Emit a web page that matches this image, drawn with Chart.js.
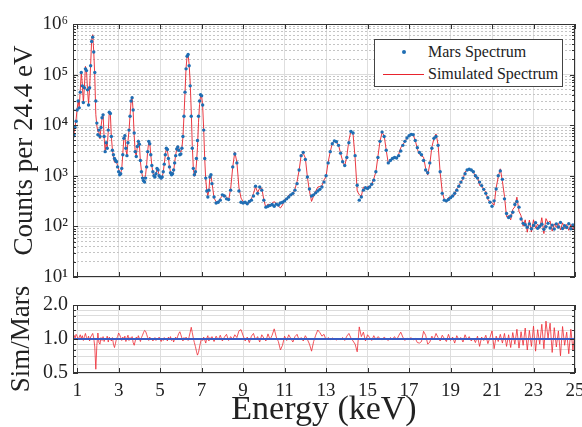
<!DOCTYPE html>
<html>
<head>
<meta charset="utf-8">
<script src="https://cdn.jsdelivr.net/npm/chart.js@4.4.0/dist/chart.umd.min.js"></script>
<style>
  html, body { margin: 0; padding: 0; background: #fff; }
  #wrap { position: relative; width: 582px; height: 427px; overflow: hidden; }
  .panel { position: absolute; left: 0; width: 582px; }
  #top { top: 0; height: 290px; }
  #bottom { top: 266px; height: 161px; }
  #legend {
    position: absolute; left: 374px; top: 39px; width: 189px; height: 48px;
    box-sizing: border-box; border: 1px solid #444; background: #fff;
    font-family: 'Liberation Serif', 'Times New Roman', serif; font-size: 16px; color: #222;
  }
  #legend .row { position: absolute; left: 0; width: 100%; height: 22px; line-height: 22px; }
  #legend .txt { position: absolute; left: 53px; top: 0; white-space: nowrap; }
  #legend .dot { position: absolute; left: 27px; top: 9px; width: 4px; height: 4px; border-radius: 50%; background: #1f6eb4; }
  #legend .line { position: absolute; left: 8px; top: 11px; width: 41px; height: 1px; background: #e8232d; }
</style>
</head>
<body>
<div id="wrap">
  <div class="panel" id="top"><canvas id="spectrumChart"></canvas></div>
  <div class="panel" id="bottom"><canvas id="ratioChart"></canvas></div>
  <div id="legend">
    <div class="row" style="top:1px"><span class="dot"></span><span class="txt">Mars Spectrum</span></div>
    <div class="row" style="top:23px"><span class="line"></span><span class="txt">Simulated Spectrum</span></div>
  </div>
</div>
<script>
// channel grid: fine steps below 7.5 keV, coarser above
const lowBand = { start: 0.8, step: 0.05 };
const highBand = { start: 7.6, step: 0.1 };

// Mars counts per 24.4 eV
const marsLow = [
  6000, 6500, 9000, 12000, 20000, 30000, 22000, 45000, 110000, 60000,
  28000, 55000, 130000, 120000, 50000, 25000, 55000, 150000, 450000, 550000,
  280000, 110000, 30000, 11000, 6500, 8000, 6000, 9000, 14000, 16000,
  6000, 3000, 4500, 3500, 8000, 18000, 17000, 6000, 3200, 2600,
  2200, 2000, 1900, 1500, 1200, 1050, 1100, 1400, 2600, 5500,
  6200, 3500, 2500, 4500, 8000, 15000, 30000, 35000, 20000, 7000,
  3000, 2400, 3800, 4800, 4200, 2000, 1200, 900, 800, 750,
  900, 1500, 3000, 4800, 4300, 2600, 1600, 1200, 1000, 950,
  1100, 1400, 1300, 1000, 950, 900, 950, 1200, 1700, 2600,
  3500, 3300, 2200, 1500, 1150, 1050, 1100, 1300, 1800, 2500,
  3400, 3700, 3200, 2600, 2700, 3500, 6000, 15000, 45000, 130000,
  230000, 250000, 150000, 60000, 15000, 3500, 1400, 1050, 1200, 2200,
  5000, 15000, 30000, 40000, 38000, 25000, 8000, 2200, 900, 500,
  380, 520, 950, 1050, 700
];
const marsHigh = [
  380, 290, 300, 330, 420, 400, 350, 340, 520, 1500,
  2700, 1800, 500, 300, 290, 300, 280, 310, 330, 400,
  620, 450, 600, 520, 330, 240, 250, 260, 270, 250,
  275, 265, 290, 300, 320, 350, 380, 420, 450, 520,
  700, 1300, 2500, 2900, 2100, 950, 550, 400, 420, 460,
  500, 540, 600, 750, 1000, 1800, 3000, 4300, 4900, 4700,
  4000, 2800, 1900, 1600, 2300, 4500, 7500, 7000, 2500, 650,
  330, 380, 520, 580, 560, 600, 680, 820, 1200, 2300,
  4800, 7300, 6000, 3200, 1800, 2000, 2200, 2300, 2250, 2500,
  3100, 4000, 4800, 5600, 6200, 6600, 6500, 5000, 3600, 2900,
  2600, 2000, 1300, 1150, 1800, 3500, 5500, 6000, 4000, 1200,
  450, 330, 320, 340, 370, 400, 450, 520, 620, 750,
  900, 1100, 1300, 1350, 1300, 1200, 1000, 900, 750, 640,
  540, 450, 370, 300, 250, 320, 550, 1000, 1250, 850,
  350, 180, 150, 160, 190, 270, 310, 240, 140, 115,
  108, 96, 112, 90, 104, 118, 92, 101, 110, 88,
  99, 115, 93, 106, 89, 112, 97, 120, 91, 103,
  95, 113, 90, 107, 100
];

// Sim/Mars ratio on the same channels
const ratioLow = [
  1.05, 1.08, 1.02, 1.10, 1.06, 0.98, 1.04, 1.09, 1.01, 1.07,
  0.97, 1.05, 1.12, 1.03, 0.99, 1.06, 0.96, 1.04, 1.08, 1.12,
  1.02, 0.85, 0.54, 0.88, 1.13, 0.93, 0.90, 1.03, 0.97, 1.05,
  0.95, 1.02, 0.98, 1.06, 0.94, 1.04, 1.00, 0.96, 1.03, 0.90,
  0.84, 0.92, 1.01, 1.05, 1.13, 1.09, 1.03, 0.97, 1.04, 0.99,
  1.06, 0.95, 1.02, 1.08, 0.97, 1.03, 0.99, 1.05, 0.93, 0.88,
  0.96, 1.04, 0.98, 1.07, 1.01, 0.95, 1.03, 1.08, 1.14, 1.19,
  1.17, 1.10, 1.03, 0.97, 1.04, 0.99, 1.02, 0.96, 1.00, 1.03,
  0.97, 1.01, 0.98, 1.04, 0.99, 0.95, 1.02, 0.97, 1.03, 0.98,
  1.01, 0.96, 1.04, 0.99, 1.05, 0.97, 1.02, 0.94, 1.00, 1.04,
  0.98, 1.06, 1.12, 1.16, 1.09, 1.02, 0.96, 1.03, 0.99, 1.04,
  1.00, 0.97, 1.05, 1.15, 1.27, 1.14, 1.02, 0.93, 0.86, 0.78,
  0.72, 0.76, 0.85, 0.94, 1.01, 0.97, 1.04, 0.98, 0.92, 1.02,
  1.07, 0.96, 1.03, 0.99, 1.05
];
const ratioHigh = [
  0.95, 1.06, 0.98, 1.08, 0.96, 1.04, 1.10, 0.97, 1.05, 0.99,
  1.09, 1.03, 1.18, 1.21, 1.07, 0.96, 1.04, 0.93, 1.06, 1.12,
  0.98, 1.05, 0.94, 1.09, 1.02, 0.96, 1.11, 0.99, 1.08, 1.23,
  1.04, 0.95, 0.80, 0.88, 1.06, 0.97, 1.09, 1.01, 0.94, 1.05,
  1.10, 0.98, 1.03, 0.96, 1.07, 0.99, 0.90, 0.78, 0.95, 1.08,
  1.20, 1.14, 1.06, 1.10, 0.98, 1.03, 0.99, 1.02, 1.00, 0.98,
  1.01, 0.99, 1.03, 0.97, 1.06, 1.12, 1.02, 0.96, 0.90, 0.77,
  1.28, 1.05, 1.15, 0.96, 1.09, 1.03, 0.97, 1.07, 0.99, 1.05,
  1.01, 0.98, 1.04, 1.00, 0.97, 1.03, 0.99, 1.05, 0.98, 1.07,
  1.15, 1.04, 0.97, 1.02, 0.99, 1.03, 0.98, 1.01, 0.93, 0.92,
  0.95, 1.17, 1.08, 0.90, 0.94, 1.06, 0.99, 1.12, 1.03, 0.96,
  1.08, 1.01, 0.95, 1.10, 0.97, 1.04, 0.92, 1.07, 0.99, 1.03,
  0.94, 1.09, 0.98, 1.05, 0.96, 1.02, 0.93, 1.06, 0.86, 1.04,
  0.97, 1.08, 0.91, 1.03, 1.18, 0.82, 1.06, 0.95, 1.10, 0.92,
  1.12, 0.86, 1.09, 0.84, 1.14, 0.90, 1.22, 0.83, 1.16, 0.88,
  1.25, 0.80, 1.19, 0.86, 1.30, 0.78, 1.21, 0.90, 1.35, 0.82,
  1.44, 1.02, 1.38, 0.76, 1.26, 0.85, 1.18, 0.71, 1.29, 0.88,
  1.15, 0.74, 1.22, 0.80, 1.17
];

const energyTicks = [1, 3, 5, 7, 9, 11, 13, 15, 17, 19, 21, 23, 25];
const countMajors = [10, 100, 1000, 10000, 100000, 1000000];
const countLabels = ['10¹', '10²', '10³', '10⁴', '10⁵', '10⁶'];
const ratioTicks = [0.5, 0.6, 0.7, 0.8, 0.9, 1.0, 1.2, 1.4, 1.6, 1.8, 2.0];
const ratioMajors = [0.5, 1.0, 2.0];
const unityRatio = 1;

const energyMin = 0.8, energyMax = 25;
const serif = "'Liberation Serif', 'Times New Roman', serif";
const ink = '#222';

function channels(band, n) {
  const out = [];
  for (let i = 0; i < n; i++) out.push(+(band.start + i * band.step).toFixed(2));
  return out;
}
const energy = channels(lowBand, marsLow.length).concat(channels(highBand, marsHigh.length));
const mars = marsLow.concat(marsHigh);
const ratio = ratioLow.concat(ratioHigh);
const simulated = mars.map((m, i) => m * ratio[i]);

// minor grid values for the log count axis
const countGrid = [];
countMajors.forEach((d, i) => {
  countGrid.push(d);
  if (i < countMajors.length - 1) for (let m = 2; m <= 9; m++) countGrid.push(d * m);
});

function noPad(scale) {
  scale.paddingLeft = 0; scale.paddingRight = 0; scale.paddingTop = 0; scale.paddingBottom = 0;
}

const framePlugin = {
  id: 'frame',
  afterDatasetsDraw(chart, args, opts) {
    const { ctx, chartArea: a, scales } = chart;
    ctx.save();
    ctx.strokeStyle = '#333';
    ctx.lineWidth = 1;
    ctx.beginPath();
    scales.x.ticks.forEach(t => {
      const px = Math.round(scales.x.getPixelForValue(t.value)) + 0.5;
      ctx.moveTo(px, a.bottom); ctx.lineTo(px, a.bottom - 5);
      ctx.moveTo(px, a.top); ctx.lineTo(px, a.top + 5);
    });
    scales.y.ticks.forEach(t => {
      const py = Math.round(scales.y.getPixelForValue(t.value)) + 0.5;
      const len = opts.majors.includes(t.value) ? 5 : 3;
      ctx.moveTo(a.left, py); ctx.lineTo(a.left + len, py);
      ctx.moveTo(a.right, py); ctx.lineTo(a.right - len, py);
    });
    ctx.stroke();
    ctx.strokeRect(a.left + 0.5, a.top + 0.5, a.width - 1, a.height - 1);
    ctx.restore();
  }
};

const xGrid = { color: '#dedede', lineWidth: 1, drawTicks: false };

new Chart(document.getElementById('spectrumChart'), {
  type: 'line',
  data: {
    datasets: [
      {
        label: 'Mars Spectrum',
        data: energy.map((e, i) => ({ x: e, y: mars[i] })),
        showLine: false,
        pointRadius: 1.7,
        pointBorderWidth: 0,
        pointBackgroundColor: '#1f6eb4',
      },
      {
        label: 'Simulated Spectrum',
        data: energy.map((e, i) => ({ x: e, y: simulated[i] })),
        borderColor: 'rgba(232, 35, 45, 0.9)',
        borderWidth: 1,
        pointRadius: 0,
        tension: 0,
      },
    ],
  },
  options: {
    animation: false,
    responsive: true,
    maintainAspectRatio: false,
    layout: { padding: { top: 24, right: 7, left: 0, bottom: 0 } },
    plugins: { legend: { display: false }, tooltip: { enabled: false }, frame: { majors: countMajors } },
    scales: {
      x: {
        type: 'linear', min: energyMin, max: energyMax,
        afterBuildTicks: s => { s.ticks = energyTicks.map(v => ({ value: v })); },
        afterFit: s => { s.height = 13; noPad(s); },
        ticks: { display: false },
        grid: xGrid,
        border: { display: false },
      },
      y: {
        type: 'logarithmic', min: 10, max: 1000000,
        afterBuildTicks: s => { s.ticks = countGrid.map(v => ({ value: v })); },
        afterFit: s => { s.width = 73; noPad(s); },
        ticks: {
          autoSkip: false,
          padding: 5,
          color: ink,
          font: { family: serif, size: 19 },
          callback: v => { const k = countMajors.indexOf(v); return k >= 0 ? countLabels[k] : ''; },
        },
        grid: {
          drawTicks: false,
          color: c => countMajors.includes(c.tick && c.tick.value) ? '#dcdcdc' : '#c4c4c4',
        },
        border: { display: false, dash: c => countMajors.includes(c.tick && c.tick.value) ? [] : [2, 2] },
        title: { display: true, text: 'Counts per 24.4 eV', color: ink, font: { family: serif, size: 27, lineHeight: 1 }, padding: { top: 11 } },
      },
    },
  },
  plugins: [framePlugin],
});

new Chart(document.getElementById('ratioChart'), {
  type: 'line',
  data: {
    datasets: [
      {
        label: 'Unity',
        data: [{ x: energyMin, y: unityRatio }, { x: energyMax, y: unityRatio }],
        borderColor: '#3a5cc4',
        borderWidth: 2.2,
        pointRadius: 0,
      },
      {
        label: 'Sim/Mars',
        data: energy.map((e, i) => ({ x: e, y: ratio[i] })),
        borderColor: '#ee2a33',
        borderWidth: 0.8,
        pointRadius: 0,
        tension: 0,
      },
    ],
  },
  options: {
    animation: false,
    responsive: true,
    maintainAspectRatio: false,
    layout: { padding: { top: 39, right: 7, left: 0, bottom: 0 } },
    plugins: { legend: { display: false }, tooltip: { enabled: false }, frame: { majors: ratioMajors } },
    scales: {
      x: {
        type: 'linear', min: energyMin, max: energyMax,
        afterBuildTicks: s => { s.ticks = energyTicks.map(v => ({ value: v })); },
        afterFit: s => { s.height = 54; noPad(s); },
        ticks: { autoSkip: false, maxRotation: 0, padding: 7, color: ink, font: { family: serif, size: 19 } },
        grid: xGrid,
        border: { display: false },
        title: { display: true, text: 'Energy (keV)', color: ink, font: { family: serif, size: 34, lineHeight: 1 }, padding: { top: 0, bottom: 0 } },
      },
      y: {
        type: 'logarithmic', min: 0.5, max: 2.0,
        afterBuildTicks: s => { s.ticks = ratioTicks.map(v => ({ value: v })); },
        afterFit: s => { s.width = 73; noPad(s); },
        ticks: {
          autoSkip: false,
          padding: 5,
          color: ink,
          font: { family: serif, size: 20 },
          callback: v => ratioMajors.includes(v) ? v.toFixed(1) : '',
        },
        grid: { drawTicks: false, color: '#dcdcdc' },
        border: { display: false },
        title: { display: true, text: 'Sim/Mars', color: ink, font: { family: serif, size: 27, lineHeight: 1 }, padding: { top: 8 } },
      },
    },
  },
  plugins: [framePlugin],
});
</script>
</body>
</html>
